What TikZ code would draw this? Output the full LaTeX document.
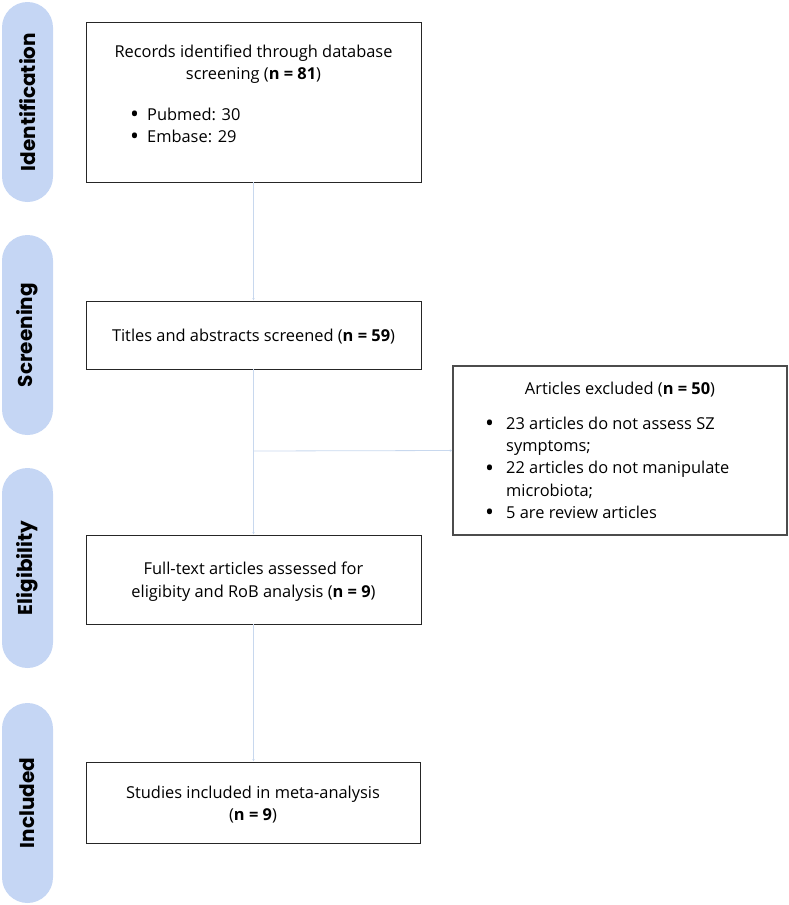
\documentclass[tikz,border=0pt]{standalone}
\usepackage{fontspec}
\setmainfont{Open Sans}
\newfontfamily\popfont{Poppins}
\usetikzlibrary{arrows.meta}
\definecolor{pillblue}{RGB}{197,214,244}
\definecolor{lineblue}{RGB}{200,216,238}
\newcommand{\bigbul}{\raisebox{-2.2pt}{\scalebox{1.45}{\textbullet}}}
\begin{document}
\begin{tikzpicture}[x=1pt,y=-1pt,
  box/.style={draw=black!85, line width=0.9pt, rectangle, inner sep=0pt},
  pill/.style={fill=pillblue, rounded corners=25.5pt, inner sep=0pt, rotate=90,
    minimum width=200pt, minimum height=51pt,
    font=\popfont\bfseries\fontsize{20}{22}\selectfont},
  txt/.style={font=\fontsize{16.4}{22.5}\selectfont, align=center, inner sep=0pt},
  blist/.style={font=\fontsize{16.4}{22.3}\selectfont, inner sep=0pt, anchor=north west},
  conn/.style={draw=lineblue, line width=0.8pt, -{Latex[length=2.5pt,width=2.5pt]}}]
\useasboundingbox (0,0) rectangle (789,905);
% phase labels
\node[pill] (p1) at (27.5,102) {Identification};
\node[pill] (p2) at (27.5,335) {Screening};
\node[pill] (p3) at (27.5,568) {Eligibility};
\node[pill] (p4) at (27.5,803) {Included};
% boxes
\node[box, minimum width=335pt, minimum height=160pt] (b1) at (253.5,102) {};
\node[box, minimum width=335pt, minimum height=68pt] (b2) at (253.5,335) {};
\node[box, minimum width=334pt, minimum height=169pt, draw=black!70, line width=1.1pt] (b3) at (620,450.5) {};
\node[box, minimum width=335pt, minimum height=89pt] (b4) at (253.5,579.5) {};
\node[box, minimum width=334pt, minimum height=81pt] (b5) at (253,802.5) {};
% texts
\node[txt] (t1) at (253.5,64.3) {Records identified through database\\screening (\textbf{n = 81})};
\node[blist] (l1) at (130,104.4) {\begin{tabular}{@{}l@{}l@{}}\makebox[17pt][l]{\bigbul} & Pubmed: 30\\ \bigbul & Embase: 29\end{tabular}};
\node[txt, anchor=base] (t2) at (253.5,341.5) {Titles and abstracts screened (\textbf{n = 59})};
\node[txt, anchor=base] (t3) at (620,394) {Articles excluded (\textbf{n = 50})};
\node[blist] (l3) at (485,413.4) {\begin{tabular}{@{}l@{}l@{}}\makebox[21pt][l]{\bigbul} & 23 articles do not assess SZ\\ & symptoms;\\ \bigbul & 22 articles do not manipulate\\ & microbiota;\\ \bigbul & 5 are review articles\end{tabular}};
\node[txt] (t4) at (253.5,581.5) {Full-text articles assessed for\\eligibity and RoB analysis (\textbf{n = 9})};
\node[txt] (t5) at (253,804.5) {Studies included in meta-analysis\\(\textbf{n = 9})};
% connectors
\coordinate (br) at (253.5,451);
\draw[conn] (b1.south) -- (b2.north);
\draw[conn] (b2.south) -- (b4.north);
\draw[conn] (br) -- (b3.west);
\draw[conn] (b4.south) -- (b4.south |- b5.north);
\end{tikzpicture}
\end{document}
